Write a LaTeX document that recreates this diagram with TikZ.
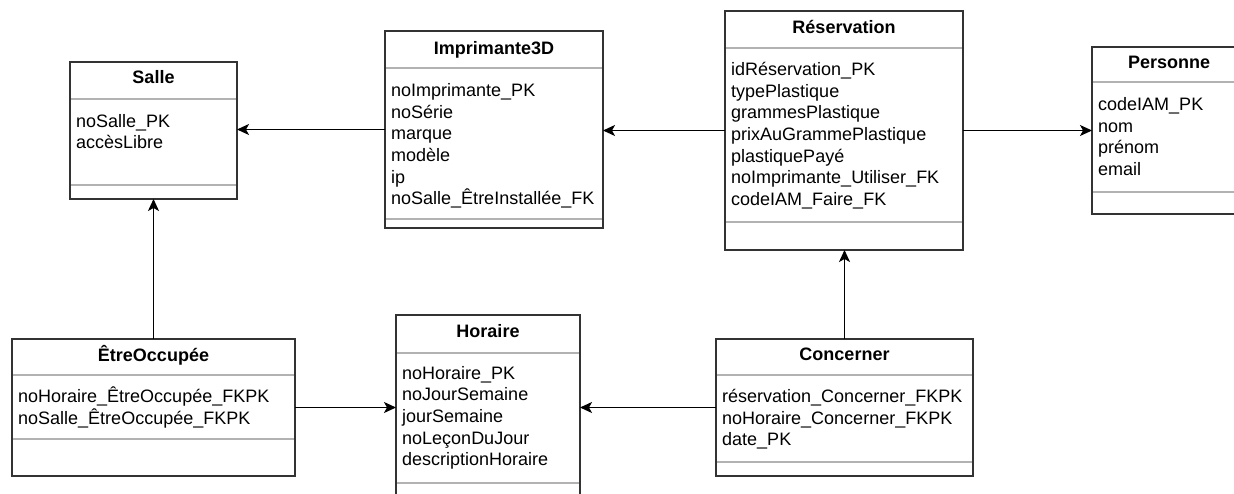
\documentclass[tikz,border=0pt]{standalone}
\usepackage{fontspec}
\setmainfont{Liberation Sans}
\usetikzlibrary{arrows.meta}
\tikzset{
  entbox/.style={draw=black!80, line width=1.8pt, anchor=north west, inner sep=0pt, outer sep=0pt},
  sepl/.style={draw=black!30, line width=1.3pt},
  ttl/.style={font=\bfseries\fontsize{18}{21.6}\selectfont, anchor=base, inner sep=0pt},
  attr/.style={font=\fontsize{18}{21.6}\selectfont, anchor=base west, inner sep=0pt},
  arr/.style={-{Stealth[length=12pt,width=11pt,inset=3pt]}, line width=1.5pt, draw=black},
}
\begin{document}
\begin{tikzpicture}[x=1pt,y=-1pt]
\useasboundingbox (0,0) rectangle (1234,494);
\clip (0,0) rectangle (1234,494);
\fill[white] (0,0) rectangle (1234,494);

% Salle
\draw[sepl] (70,99) -- (237,99);
\draw[sepl] (70,185) -- (237,185);
\node[entbox, minimum width=167pt, minimum height=137pt] (salle) at (70,62) {};
\node[ttl] (salle-t) at (153.5,83.3) {Salle};
\foreach \t [count=\i from 0] in {noSalle\_PK, accèsLibre}
  \node[attr] (salle-a\i) at (76,127.3+\i*21.6) {\t};

% Imprimante3D
\draw[sepl] (385,68) -- (603,68);
\draw[sepl] (385,219) -- (603,219);
\node[entbox, minimum width=218pt, minimum height=197pt] (impr) at (385,31) {};
\node[ttl] (impr-t) at (494,55) {Imprimante3D};
\foreach \t [count=\i from 0] in {noImprimante\_PK, noSérie, marque, modèle, ip, noSalle\_ÊtreInstallée\_FK}
  \node[attr] (impr-a\i) at (391,96.7+\i*21.6) {\t};

% Reservation
\draw[sepl] (725,48) -- (963,48);
\draw[sepl] (725,222) -- (963,222);
\node[entbox, minimum width=238pt, minimum height=239pt] (resa) at (725,11) {};
\node[ttl] (resa-t) at (844,33.3) {Réservation};
\foreach \t [count=\i from 0] in {idRéservation\_PK, typePlastique, grammesPlastique, prixAuGrammePlastique, plastiquePayé, noImprimante\_Utiliser\_FK, codeIAM\_Faire\_FK}
  \node[attr] (resa-a\i) at (731,75.7+\i*21.6) {\t};

% Personne
\draw[sepl] (1092,82) -- (1246,82);
\draw[sepl] (1092,192) -- (1246,192);
\node[entbox, minimum width=154pt, minimum height=167pt] (pers) at (1092,47) {};
\node[ttl] (pers-t) at (1169,68.3) {Personne};
\foreach \t [count=\i from 0] in {codeIAM\_PK, nom, prénom, email}
  \node[attr] (pers-a\i) at (1098,110.7+\i*21.6) {\t};

% EtreOccupee
\draw[sepl] (12,375) -- (295,375);
\draw[sepl] (12,439) -- (295,439);
\node[entbox, minimum width=283pt, minimum height=137pt] (etre) at (12,339) {};
\node[ttl] (etre-t) at (153.5,361.7) {ÊtreOccupée};
\foreach \t [count=\i from 0] in {noHoraire\_ÊtreOccupée\_FKPK, noSalle\_ÊtreOccupée\_FKPK}
  \node[attr] (etre-a\i) at (18,402.7+\i*21.6) {\t};

% Horaire
\draw[sepl] (396,353) -- (580,353);
\draw[sepl] (396,483) -- (580,483);
\node[entbox, minimum width=184pt, minimum height=200pt] (hor) at (396,315) {};
\node[ttl] (hor-t) at (488,337.3) {Horaire};
\foreach \t [count=\i from 0] in {noHoraire\_PK, noJourSemaine, jourSemaine, noLeçonDuJour, descriptionHoraire}
  \node[attr] (hor-a\i) at (402,379.3+\i*21.6) {\t};

% Concerner
\draw[sepl] (716,375) -- (973,375);
\draw[sepl] (716,462) -- (973,462);
\node[entbox, minimum width=257pt, minimum height=137pt] (conc) at (716,339) {};
\node[ttl] (conc-t) at (844.5,360.7) {Concerner};
\foreach \t [count=\i from 0] in {réservation\_Concerner\_FKPK, noHoraire\_Concerner\_FKPK, date\_PK}
  \node[attr] (conc-a\i) at (722,402.7+\i*21.6) {\t};

% Connectors
\draw[arr] (impr.west) -- (impr.west -| salle.east);
\draw[arr] (resa.west) -- (resa.west -| impr.east);
\draw[arr] (resa.east) -- (resa.east -| pers.west);
\draw[arr] (etre.north) -- (etre.north |- salle.south);
\draw[arr] (etre.east) -- (etre.east -| hor.west);
\draw[arr] (conc.west) -- (conc.west -| hor.east);
\draw[arr] (conc.north) -- (conc.north |- resa.south);
\end{tikzpicture}
\end{document}
